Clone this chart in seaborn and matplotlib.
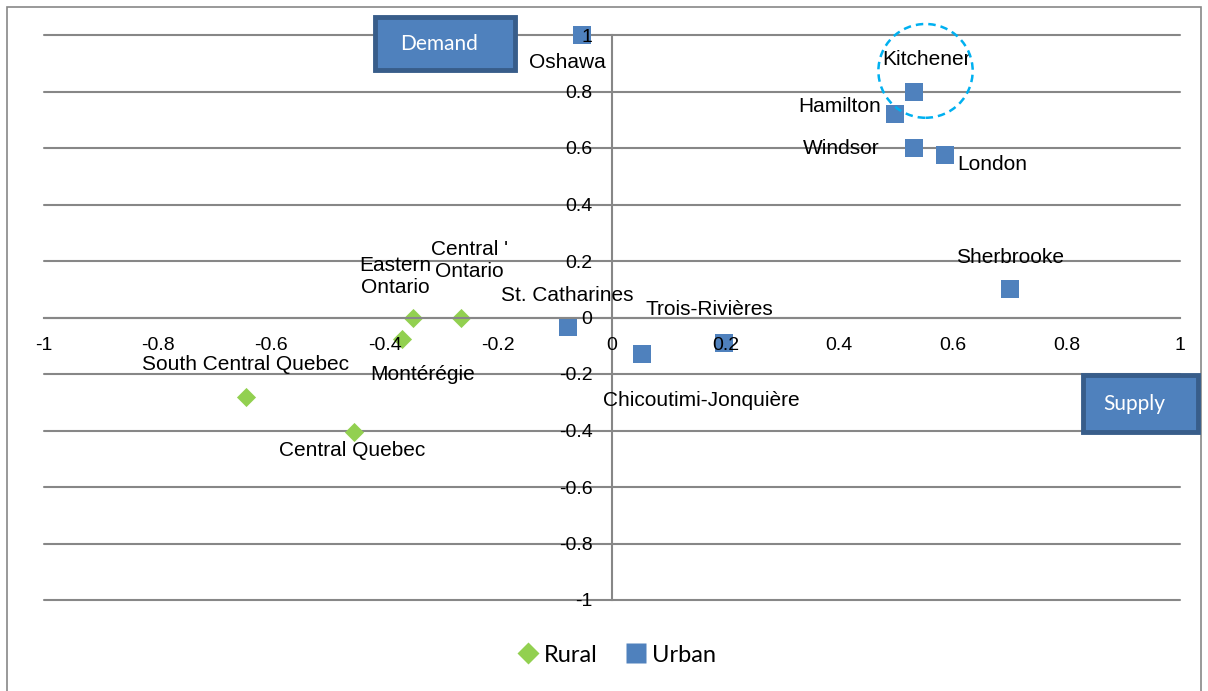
import pandas as pd
import matplotlib
matplotlib.use("Agg")
import matplotlib.pyplot as plt
from matplotlib.patches import Ellipse, Rectangle
from matplotlib.lines import Line2D
import seaborn as sns

# data
rural_names = ["Eastern\nOntario", "Central '\nOntario", "Montérégie", "South Central Quebec", "Central Quebec"]
rural_x = [-0.350, -0.265, -0.370, -0.645, -0.455]
rural_y = [0.000, 0.000, -0.075, -0.280, -0.405]

urban_names = ["Oshawa", "Kitchener", "Hamilton", "Windsor", "London", "Sherbrooke",
               "St. Catharines", "Trois-Rivières", "Chicoutimi-Jonquière"]
urban_x = [-0.053, 0.531, 0.498, 0.531, 0.587, 0.700, -0.078, 0.197, 0.053]
urban_y = [1.000, 0.800, 0.720, 0.600, 0.575, 0.100, -0.035, -0.090, -0.130]

ticks = [-1, -0.8, -0.6, -0.4, -0.2, 0, 0.2, 0.4, 0.6, 0.8, 1]
tick_labels = ["-1", "-0.8", "-0.6", "-0.4", "-0.2", "0", "0.2", "0.4", "0.6", "0.8", "1"]

rural = pd.DataFrame({"name": rural_names, "x": rural_x, "y": rural_y})
urban = pd.DataFrame({"name": urban_names, "x": urban_x, "y": urban_y})

# label placement (pixel offsets from the point)
label_offsets = {
    "Oshawa": (-15, -27), "Kitchener": (13, 32), "Hamilton": (-55, 8),
    "Windsor": (-72, -1), "London": (47, -9), "Sherbrooke": (0, 32),
    "St. Catharines": (0, 32), "Trois-Rivières": (-15, 33),
    "Chicoutimi-Jonquière": (59, -46), "Eastern\nOntario": (-18, 41),
    "Central '\nOntario": (8, 57), "Montérégie": (21, -36),
    "South Central Quebec": (0, 32), "Central Quebec": (-1, -19),
}

sns.set_style("white")
plt.rcParams["font.family"] = ["Liberation Sans", "DejaVu Sans"]
plt.rcParams["text.color"] = "black"

blue = "#4F81BD"
green = "#92D050"
grid_c = "#878787"

W, H = 1208, 691
fig = plt.figure(figsize=(W / 100, H / 100), dpi=100)
ax = fig.add_axes([44 / W, 1 - 600 / H, (1180 - 44) / W, (600 - 35) / H])

# outer chart border
fig.add_artist(Rectangle((7 / W, -0.01), (1201 - 7) / W, 1 - 7 / H + 0.01,
                         transform=fig.transFigure, fill=False, ec=grid_c, lw=1.2))

# horizontal gridlines below the markers, tick labels stay on top
for t in ticks:
    ax.axhline(t, color=grid_c, lw=1.5, zorder=0.5, clip_on=False)

sns.scatterplot(data=rural, x="x", y="y", marker="D", s=95, color=green,
                linewidth=0, ax=ax, clip_on=False, zorder=2)
sns.scatterplot(data=urban, x="x", y="y", marker="s", s=165, color=blue,
                linewidth=0, ax=ax, clip_on=False, zorder=2)

ax.set_xlim(-1, 1)
ax.set_ylim(-1, 1)
ax.set_xticks(ticks)
ax.set_xticklabels(tick_labels)
ax.set_yticks(ticks)
ax.set_yticklabels(tick_labels)
ax.set_xlabel("")
ax.set_ylabel("")
ax.grid(False)
ax.set_axisbelow(False)

for side in ["top", "right"]:
    ax.spines[side].set_visible(False)
ax.spines["left"].set_position("zero")
ax.spines["bottom"].set_position("zero")
for side in ["left", "bottom"]:
    ax.spines[side].set_color(grid_c)
    ax.spines[side].set_linewidth(1.5)

ax.tick_params(axis="x", direction="out", length=5, width=1.2, color=grid_c,
               pad=9, labelsize=14, labelcolor="black")
ax.tick_params(axis="y", direction="out", length=0, pad=14, labelsize=14,
               labelcolor="black")

for df in (rural, urban):
    for _, r in df.iterrows():
        dx, dy = label_offsets[r["name"]]
        ax.annotate(r["name"], (r["x"], r["y"]), xytext=(dx, dy),
                    textcoords="offset pixels", ha="center", va="center",
                    fontsize=15, linespacing=1.25, color="black", zorder=4)

# dashed circle around Kitchener
ax.add_patch(Ellipse((0.552, 0.873), 0.166, 0.332, fill=False, ls=(0, (3, 2)),
                     ec="#00B0F0", lw=1.8, clip_on=False, zorder=5))

# Demand / Supply boxes
for (x0, y0, x1, y1, txt) in [(375, 17, 515, 70, "Demand"), (1083, 375, 1198, 432, "Supply")]:
    fig.add_artist(Rectangle((x0 / W, 1 - y1 / H), (x1 - x0) / W, (y1 - y0) / H,
                             transform=fig.transFigure, fc=blue, ec="#385D8A", lw=3.5))
    fig.text((x0 + x1) / 2 / W - 6 / W, 1 - (y0 + y1) / 2 / H, txt, color="white",
             ha="center", va="center", fontsize=15, family=["Lato", "DejaVu Sans"])

handles = [Line2D([], [], marker="D", ls="", color=green, markersize=11, mec="none"),
           Line2D([], [], marker="s", ls="", color=blue, markersize=14, mec="none")]
fig.legend(handles, ["Rural", "Urban"], loc="center", bbox_to_anchor=(615 / W, 1 - 655 / H),
           ncol=2, frameon=False, handletextpad=0.1, columnspacing=1.0, handlelength=1.2,
           labelcolor="black", prop={"family": ["Lato", "DejaVu Sans"], "size": 17})

fig.savefig("out.png", dpi=100)
